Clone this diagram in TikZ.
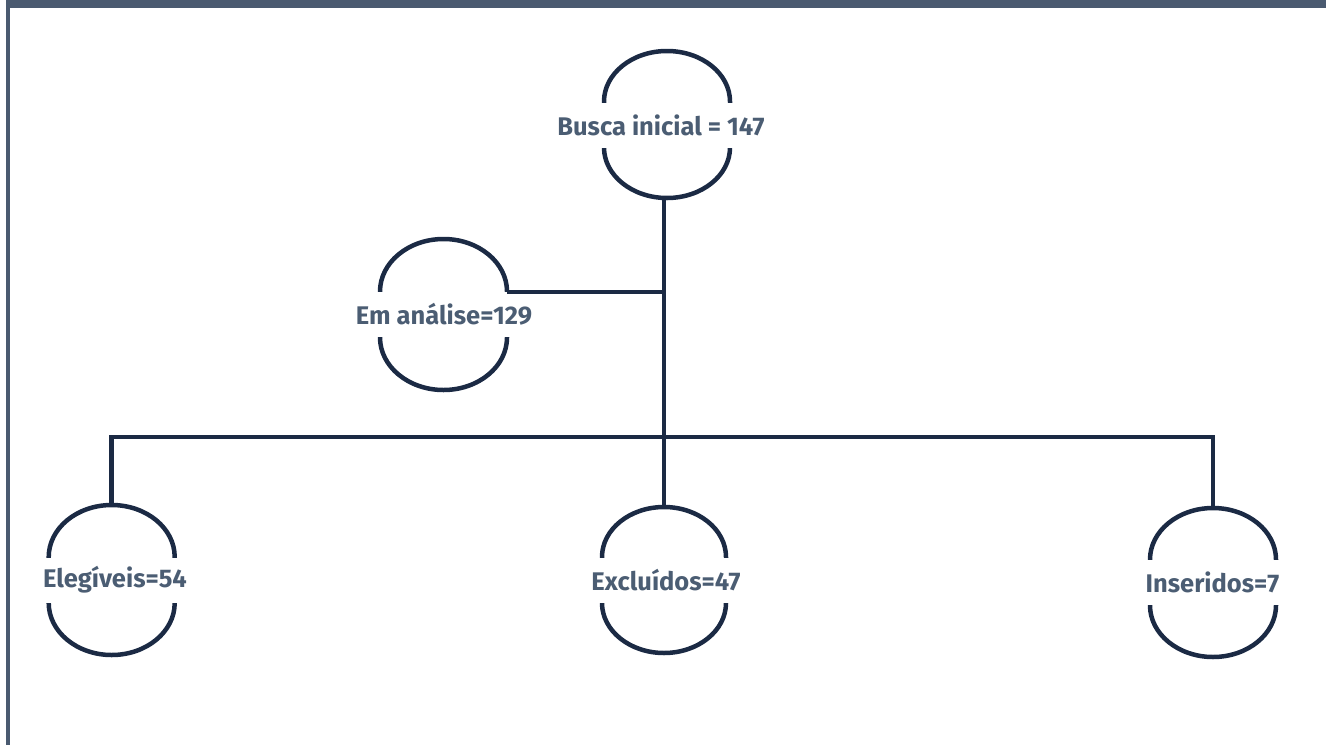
\documentclass[tikz,border=0pt]{standalone}
\usepackage{fontspec}
\setmainfont{Fira Sans}
\definecolor{band}{HTML}{4A5A70}
\definecolor{navy}{HTML}{1B2A44}
\definecolor{txt}{HTML}{4B5D73}
\tikzset{
  anch/.style={rectangle, draw=none, outer sep=0pt, inner sep=0pt},
  lbl/.style={fill=white, text=txt, font=\fontsize{25.5}{27}\selectfont\bfseries, inner xsep=1pt, inner ysep=0pt, minimum height=45pt},
  link/.style={draw=navy, line width=4.5pt}
}
% #1 name, #2 centre, #3 half width, #4 cap height, #5 total height
\newcommand\blobat[5]{%
  \node[anch, minimum width=2*#3, minimum height=#5] (#1) at (#2) {};
  \draw[link] ([yshift=23pt]#1.west) arc[start angle=180, end angle=0, x radius=#3, y radius=#4]
    -- ([yshift=-23pt]#1.east) arc[start angle=0, end angle=-180, x radius=#3, y radius=#4] -- cycle;
}
\begin{document}
\begin{tikzpicture}[x=1pt,y=-1pt]
\useasboundingbox (0,0) rectangle (1326,745);
\fill[band] (6,0) rectangle (1326,8);
\fill[band] (6,0) rectangle (9.5,745);
% shapes
\blobat{busca}{667,124.5}{63pt}{50.5pt}{147pt}
\blobat{em}{443.5,314.5}{63.5pt}{52.5pt}{151pt}
\blobat{eleg}{111.7,580}{63pt}{52pt}{150pt}
\blobat{excl}{664,580}{62pt}{50pt}{146pt}
\blobat{ins}{1213,582.5}{63pt}{51.5pt}{149pt}
% labels
\node[lbl] (tbusca) at (661,125.5) {Busca inicial = 147};
\node[lbl] (tem) at (444,314.5) {Em análise=129};
\node[lbl] (teleg) at (115,580) {Elegíveis=54};
\node[lbl] (texcl) at (666,580) {Excluídos=47};
\node[lbl] (tins) at (1212.5,582) {Inseridos=7};
% connectors
\coordinate (jtop) at (664,292);
\coordinate (jmid) at (664,437);
\draw[link] (busca.south -| excl.north) -- (excl.north);
\draw[link] (em.east |- jtop) -- (jtop);
\draw[link] (eleg.north) |- (jmid) -| (ins.north);
\end{tikzpicture}
\end{document}
